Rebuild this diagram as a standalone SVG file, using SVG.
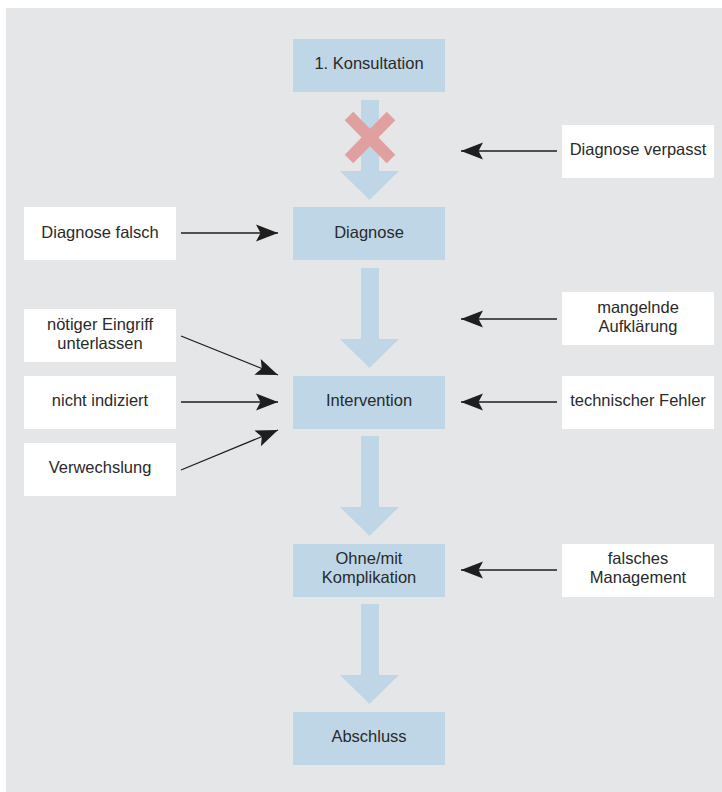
<svg xmlns="http://www.w3.org/2000/svg" width="722" height="792" viewBox="0 0 722 792">
<style>
.bg{fill:#e5e6e8}
.step{fill:#bed6e6}
.note{fill:#ffffff}
.flow{fill:#bed6e6}
text{font-family:"Liberation Sans",Arial,Helvetica,sans-serif;font-size:16.5px;fill:#2a2a2a;text-anchor:middle}
.conn{stroke:#1e1e1e;stroke-width:1.3;fill:none;marker-end:url(#ah)}
.cross{stroke:#e0a0a0;stroke-width:12;stroke-linecap:butt}
</style>
<defs>
<marker id="ah" viewBox="-23 -9 24 18" refX="0" refY="0" markerWidth="24" markerHeight="18" markerUnits="userSpaceOnUse" orient="auto">
<path d="M0,0 L-22,-8.5 L-17.5,0 L-22,8.5 Z" fill="#1e1e1e"/>
</marker>
</defs>
<rect class="bg" x="6" y="8" width="716" height="784"/>

<g id="flow-arrows">
<path class="flow" d="M361,100 H379 V171 H399 L369.5,200 L340,171 H361 Z"/>
<path class="flow" d="M361,268 H379 V339 H399 L369.5,368 L340,339 H361 Z"/>
<path class="flow" d="M361,436 H379 V507 H399 L369.5,536 L340,507 H361 Z"/>
<path class="flow" d="M361,604 H379 V675 H399 L369.5,704 L340,675 H361 Z"/>
</g>
<g id="cross">
<line class="cross" x1="349" y1="116" x2="391" y2="159"/>
<line class="cross" x1="391" y1="116" x2="349" y2="159"/>
</g>

<g id="n-konsultation"><rect class="step" x="293" y="39" width="152" height="53"/><text x="369" y="69">1. Konsultation</text></g>
<g id="n-diagnose"><rect class="step" x="293" y="207" width="152" height="53"/><text x="369" y="238">Diagnose</text></g>
<g id="n-intervention"><rect class="step" x="293" y="376" width="152" height="53"/><text x="369" y="406">Intervention</text></g>
<g id="n-ohne"><rect class="step" x="293" y="544" width="152" height="53"/><text x="369" y="564">Ohne/mit</text><text x="369" y="583">Komplikation</text></g>
<g id="n-abschluss"><rect class="step" x="293" y="712" width="152" height="53"/><text x="369" y="742">Abschluss</text></g>

<g id="n-verpasst"><rect class="note" x="562" y="125" width="152" height="53"/><text x="638" y="155">Diagnose verpasst</text></g>
<g id="n-falsch"><rect class="note" x="24" y="207" width="152" height="53"/><text x="100" y="238">Diagnose falsch</text></g>
<g id="n-aufklaerung"><rect class="note" x="562" y="292" width="152" height="53"/><text x="638" y="313">mangelnde</text><text x="638" y="332">Aufklärung</text></g>
<g id="n-eingriff"><rect class="note" x="24" y="309" width="152" height="53"/><text x="100" y="330">nötiger Eingriff</text><text x="100" y="349">unterlassen</text></g>
<g id="n-indiziert"><rect class="note" x="24" y="376" width="152" height="53"/><text x="100" y="406">nicht indiziert</text></g>
<g id="n-technisch"><rect class="note" x="562" y="376" width="152" height="53"/><text x="638" y="406">technischer Fehler</text></g>
<g id="n-verwechslung"><rect class="note" x="24" y="443" width="152" height="53"/><text x="100" y="473">Verwechslung</text></g>
<g id="n-management"><rect class="note" x="562" y="544" width="152" height="53"/><text x="638" y="564">falsches</text><text x="638" y="583">Management</text></g>

<g id="connectors">
<line class="conn" x1="557" y1="151" x2="461" y2="151"/>
<line class="conn" x1="181" y1="233" x2="278" y2="233"/>
<line class="conn" x1="557" y1="319" x2="461" y2="319"/>
<line class="conn" x1="181" y1="336" x2="278" y2="375"/>
<line class="conn" x1="181" y1="402" x2="278" y2="402"/>
<line class="conn" x1="557" y1="402" x2="461" y2="402"/>
<line class="conn" x1="181" y1="470" x2="278" y2="430"/>
<line class="conn" x1="557" y1="570" x2="461" y2="570"/>
</g>
</svg>
